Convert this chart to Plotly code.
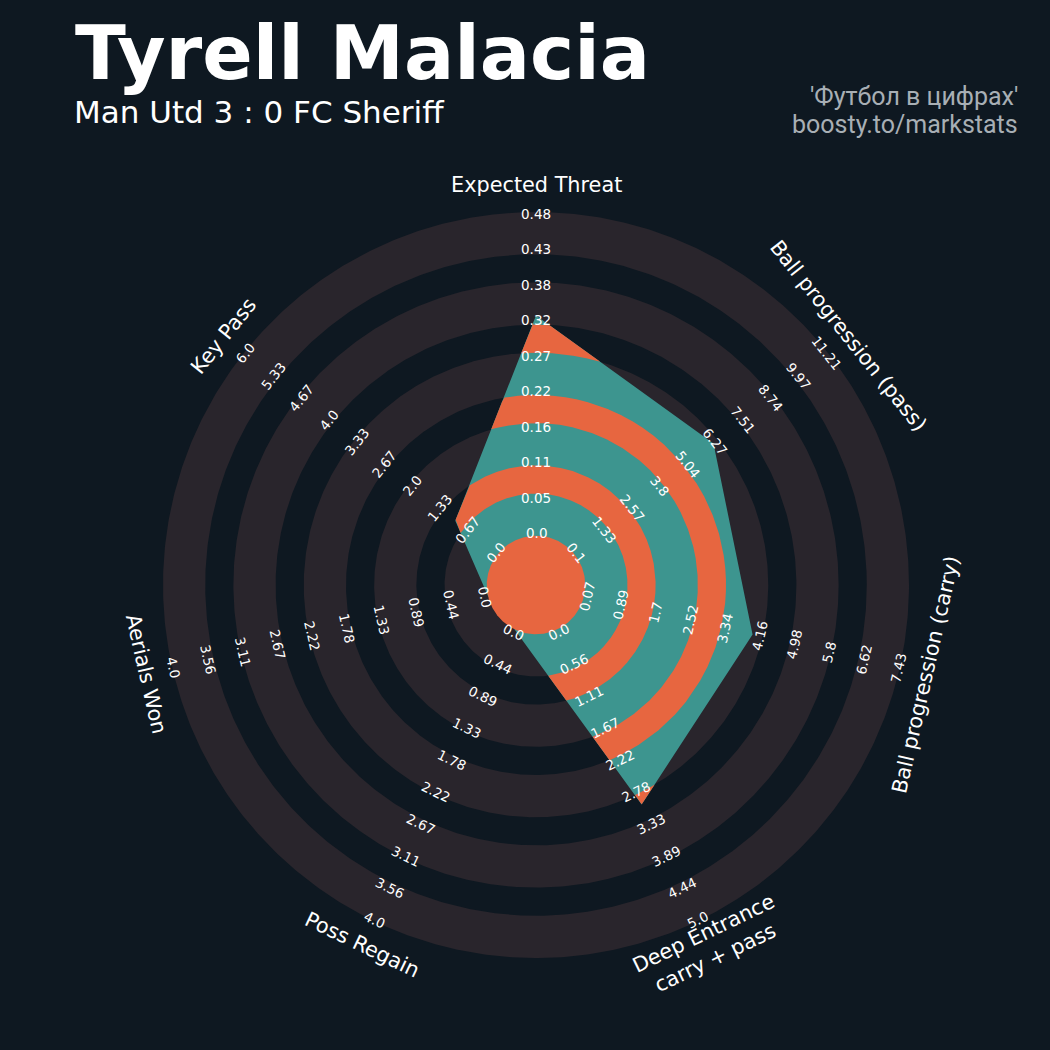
import numpy as np
import plotly.graph_objects as go

# ---------------- data ----------------
params = ["Expected Threat", "Ball progression (pass)", "Ball progression (carry)",
          "Deep Entrance<br>carry + pass", "Poss Regain", "Aerials Won", "Key Pass"]
values = [0.33, 6.2, 4.0, 3.0, 0.0, 0.0, 1.0]
min_range = [0.0, 0.1, 0.07, 0.0, 0.0, 0.0, 0.0]
max_range = [0.485, 11.21, 7.43, 5.0, 4.0, 4.0, 6.0]
range_labels = [
    ["0.0", "0.05", "0.11", "0.16", "0.22", "0.27", "0.32", "0.38", "0.43", "0.48"],
    ["0.1", "1.33", "2.57", "3.8", "5.04", "6.27", "7.51", "8.74", "9.97", "11.21"],
    ["0.07", "0.89", "1.7", "2.52", "3.34", "4.16", "4.98", "5.8", "6.62", "7.43"],
    ["0.0", "0.56", "1.11", "1.67", "2.22", "2.78", "3.33", "3.89", "4.44", "5.0"],
    ["0.0", "0.44", "0.89", "1.33", "1.78", "2.22", "2.67", "3.11", "3.56", "4.0"],
    ["0.0", "0.44", "0.89", "1.33", "1.78", "2.22", "2.67", "3.11", "3.56", "4.0"],
    ["0.0", "0.67", "1.33", "2.0", "2.67", "3.33", "4.0", "4.67", "5.33", "6.0"],
]
title = "Tyrell Malacia"
subtitle = "Man Utd 3 : 0 FC Sheriff"
credit = ["'Футбол в цифрах'", "boosty.to/markstats"]

# ---------------- style / geometry ----------------
BG = "#0e1821"
GREY = "#29252c"
TEAL = "#3d958f"
ORANGE = "#e76640"
W = H = 1050
CX, CY = 536.0, 1050 - 585.0
U = 373.0 / 26.5
R_C = 3.5 * U
R_OUT = 26.5 * U
LABEL_R = 400
RANGE_R0, RANGE_STEP = 52.0, 35.5

n = len(params)
theta = np.radians(90 - np.arange(n) * 360.0 / n)

def circle(r, a0=0.0, a1=2 * np.pi, num=720):
    a = np.linspace(a0, a1, num)
    return CX + r * np.cos(a), CY + r * np.sin(a)

fig = go.Figure()

def add_fill(xs, ys, color):
    fig.add_trace(go.Scatter(x=xs, y=ys, mode="lines", fill="toself", fillcolor=color,
                             line=dict(width=0, color=color), hoverinfo="skip",
                             showlegend=False))

# background disc bands (grey)
grey_bands = [(R_C + k * 5 * U, R_C + k * 5 * U + 3 * U) for k in range(5)]
orange_bands = [(R_C + k * 5 * U + 3 * U, R_C + (k + 1) * 5 * U) for k in range(4)]
for r1, r2 in grey_bands:
    xo, yo = circle(r2)
    xi, yi = circle(r1, 2 * np.pi, 0)
    add_fill(list(xo) + list(xi), list(yo) + list(yi), GREY)

# radar polygon
vals = np.array(values)
mn = np.array(min_range)
mx = np.array(max_range)
rv = R_C + (vals - mn) / (mx - mn) * (R_OUT - R_C)
vx = rv * np.cos(theta)
vy = rv * np.sin(theta)
add_fill(list(CX + vx) + [CX + vx[0]], list(CY + vy) + [CY + vy[0]], TEAL)

# polygon boundary distance along rays (star-shaped about centre)
verts = np.stack([vx, vy], axis=1)
start = theta[int(np.argmin(rv))]
phis = start - np.linspace(0, 2 * np.pi, 7201)
dx, dy = np.cos(phis), np.sin(phis)
rho = np.full(phis.shape, np.inf)
for i in range(n):
    a = verts[i]
    b = verts[(i + 1) % n]
    ex, ey = b - a
    det = -dx * ey + dy * ex
    with np.errstate(divide="ignore", invalid="ignore"):
        s = (-a[0] * ey + a[1] * ex) / det
        t = (dx * a[1] - dy * a[0]) / det
    ok = (np.abs(det) > 1e-12) & (t >= -1e-9) & (t <= 1 + 1e-9) & (s > 0)
    rho = np.where(ok, np.minimum(rho, s), rho)

# orange bands clipped to polygon
for r1, r2 in orange_bands:
    valid = rho > r1
    xs, ys = [], []
    idx = np.where(valid)[0]
    if len(idx) == 0:
        continue
    splits = np.where(np.diff(idx) > 1)[0]
    segs = np.split(idx, splits + 1)
    for seg in segs:
        ph = phis[seg]
        ro = np.minimum(r2, rho[seg])
        px = list(CX + ro * np.cos(ph)) + list(CX + r1 * np.cos(ph[::-1]))
        py = list(CY + ro * np.sin(ph)) + list(CY + r1 * np.sin(ph[::-1]))
        px.append(px[0]); py.append(py[0])
        xs += px + [None]
        ys += py + [None]
    add_fill(xs, ys, ORANGE)

# centre circle
xc, yc = circle(R_C)
add_fill(list(xc), list(yc), ORANGE)

# ---------------- text ----------------
annotations = []

def rot_for(th_deg):
    r = th_deg - 90.0
    while r > 90:
        r -= 180
    while r <= -90:
        r += 180
    return -r  # plotly: clockwise positive

for i in range(n):
    th = theta[i]
    ang = rot_for(np.degrees(th))
    annotations.append(dict(x=CX + LABEL_R * np.cos(th), y=CY + LABEL_R * np.sin(th),
                            xref="x", yref="y", text=params[i], showarrow=False,
                            textangle=ang, xanchor="center", yanchor="middle",
                            font=dict(family="DejaVu Sans", size=20.8, color="white")))
    for k, lab in enumerate(range_labels[i]):
        rr = RANGE_R0 + k * RANGE_STEP
        annotations.append(dict(x=CX + rr * np.cos(th), y=CY + rr * np.sin(th),
                                xref="x", yref="y", text=lab, showarrow=False,
                                textangle=ang, xanchor="center", yanchor="middle",
                                font=dict(family="DejaVu Sans", size=13.5, color="white")))

annotations.append(dict(x=73 / W, y=1 - 54 / H, xref="paper", yref="paper", text="<b>" + title + "</b>",
                        showarrow=False, xanchor="left", yanchor="middle",
                        font=dict(family="DejaVu Sans", size=74.5, color="white")))
annotations.append(dict(x=72 / W, y=1 - 112 / H, xref="paper", yref="paper", text=subtitle,
                        showarrow=False, xanchor="left", yanchor="middle",
                        font=dict(family="DejaVu Sans", size=31, color="white")))
for j, line in enumerate(credit):
    annotations.append(dict(x=1020 / W, y=1 - (97 + 27 * j) / H, xref="paper", yref="paper",
                            text=line, showarrow=False, xanchor="right", yanchor="middle",
                            font=dict(family="Roboto", size=25, color="#a8afb5")))

fig.update_layout(
    width=W, height=H, margin=dict(l=0, r=0, t=0, b=0),
    paper_bgcolor=BG, plot_bgcolor=BG,
    xaxis=dict(range=[0, W], visible=False, fixedrange=True),
    yaxis=dict(range=[0, H], visible=False, fixedrange=True),
    annotations=annotations, showlegend=False,
)

fig.write_html("out.html", config={"displayModeBar": False},
               post_script="document.body.style.margin='0px';document.body.style.overflow='hidden';")
